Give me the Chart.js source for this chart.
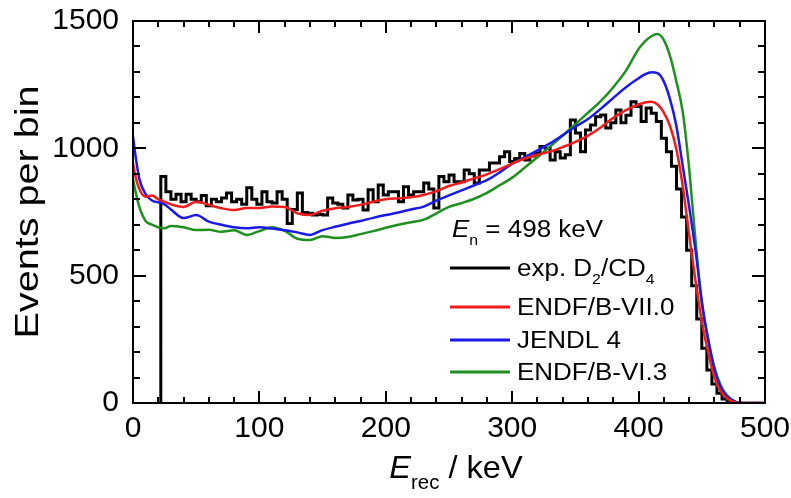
<!DOCTYPE html>
<html>
<head>
<meta charset="utf-8">
<script src="https://cdn.jsdelivr.net/npm/chart.js@4.4.1/dist/chart.umd.min.js"></script>
<style>
  html, body { margin: 0; padding: 0; background: #fff; }
  canvas { display: block; }
</style>
</head>
<body>
<canvas id="chart" width="791" height="498"></canvas>
<script>
// Recoil energy grid (keV) shared by the three evaluated-data curves
const modelE = [0, 2, 5, 10, 15, 20, 25, 30, 40, 50, 60, 70, 80, 90, 100, 110, 120, 130, 140, 150,
  160, 170, 180, 190, 200, 210, 220, 230, 240, 250, 260, 270, 280, 290, 300, 310, 320, 330, 340, 350,
  360, 370, 380, 390, 400, 405, 410, 415, 420, 425, 430, 435, 440, 445, 450, 455, 460, 465, 470, 475,
  480, 490, 500];

const endf7 = [940, 890, 840, 810, 815, 800, 790, 780, 770, 790, 778, 765, 758, 766, 766, 772, 770, 745, 738, 755,
  765, 770, 778, 790, 800, 804, 808, 817, 832, 852, 866, 882, 898, 918, 940, 960, 975, 987, 1005, 1025,
  1050, 1082, 1120, 1150, 1172, 1180, 1183, 1172, 1140, 1085, 993, 849, 660, 480, 320, 200, 100, 45, 18, 5,
  0, 0, 0];

const jendl4 = [1046, 970, 880, 820, 795, 788, 780, 760, 726, 738, 712, 700, 690, 686, 690, 685, 678, 670, 660, 679,
  692, 704, 715, 727, 738, 748, 760, 771, 795, 815, 835, 855, 875, 905, 940, 965, 992, 1020, 1052, 1085,
  1115, 1155, 1198, 1240, 1275, 1290, 1299, 1295, 1262, 1190, 1085, 928, 771, 600, 400, 250, 130, 60, 25, 8,
  0, 0, 0];

const endf6 = [880, 830, 770, 715, 700, 690, 686, 695, 690, 679, 680, 672, 678, 660, 675, 690, 676, 645, 640, 655,
  648, 652, 663, 675, 688, 700, 710, 720, 745, 770, 785, 802, 825, 855, 885, 925, 965, 1007, 1050, 1095,
  1140, 1185, 1240, 1305, 1390, 1420, 1440, 1449, 1425, 1360, 1260, 1140, 920, 640, 390, 250, 140, 70, 30, 10,
  0, 0, 0];

// Measured histogram: 4 keV bins starting at 22 keV
const expBinStart = 22;
const expBinWidth = 4;
const expCounts = [123, 889, 830, 800, 820, 790, 820, 800, 790, 815, 775, 800, 790, 805, 825, 790, 800, 780, 845, 800,
  780, 830, 790, 785, 830, 800, 705, 760, 825, 748, 745, 738, 740, 738, 805, 785, 780, 766, 817, 797,
  800, 758, 837, 790, 856, 817, 830, 830, 790, 849, 817, 830, 830, 864, 840, 766, 889, 869, 895, 869,
  869, 915, 900, 864, 915, 915, 942, 942, 967, 987, 948, 960, 980, 954, 970, 980, 1007, 1000, 954, 987,
  962, 975, 1111, 1060, 987, 1072, 1092, 1124, 1131, 1080, 1100, 1151, 1100, 1130, 1183, 1164, 1105, 1158, 1138, 1105,
  1040, 987, 930, 840, 730, 600, 460, 330, 215, 130, 75, 38, 16, 6, 0];

const xMajor = [0, 100, 200, 300, 400, 500];
const yMajor = [0, 500, 1000, 1500];

const legendItems = [
  { color: '#000000', parts: [['exp. D', 0], ['2', 1], ['/CD', 0], ['4', 1]] },
  { color: '#ee1c1c', parts: [['ENDF/B-VII.0', 0]] },
  { color: '#1a1ae6', parts: [['JENDL 4', 0]] },
  { color: '#1f8f1f', parts: [['ENDF/B-VI.3', 0]] }
];

const FONT = "'Liberation Sans', Arial, sans-serif";

function toPoints(xs, ys) {
  return xs.map((x, i) => ({ x: x, y: ys[i] }));
}

function expPoints() {
  const pts = [{ x: expBinStart, y: 0 }];
  expCounts.forEach((c, i) => pts.push({ x: expBinStart + i * expBinWidth, y: c }));
  pts.push({ x: expBinStart + expCounts.length * expBinWidth, y: 0 });
  return pts;
}

// inward ticks on all four sides + frame
const framePlugin = {
  id: 'frame',
  afterDatasetsDraw(chart) {
    const { ctx, chartArea: a, scales } = chart;
    const xs = scales.x, ys = scales.y;
    ctx.save();
    ctx.strokeStyle = '#000';
    ctx.lineWidth = 2;
    ctx.strokeRect(a.left, a.top, a.right - a.left, a.bottom - a.top);
    ctx.beginPath();
    for (let v = 0; v <= 500; v += 20) {
      const px = Math.round(xs.getPixelForValue(v));
      const len = v % 100 === 0 ? 12 : 6;
      ctx.moveTo(px, a.bottom); ctx.lineTo(px, a.bottom - len);
      ctx.moveTo(px, a.top); ctx.lineTo(px, a.top + len);
    }
    for (let v = 0; v <= 1500; v += 100) {
      const py = Math.round(ys.getPixelForValue(v));
      const len = v % 500 === 0 ? 13 : 7;
      ctx.moveTo(a.left, py); ctx.lineTo(a.left + len, py);
      ctx.moveTo(a.right, py); ctx.lineTo(a.right - len, py);
    }
    ctx.stroke();
    ctx.restore();
  }
};

// draws a run of [text, isSub] parts at (x, y) with a horizontal stretch
function drawParts(ctx, parts, x, y, size, italicFirst, stretch) {
  ctx.save();
  ctx.translate(x, y);
  ctx.scale(stretch, 1);
  let cx = 0;
  parts.forEach((p, i) => {
    const sub = p[1] === 1;
    const sz = sub ? Math.round(size * 0.62) : size;
    ctx.font = ((italicFirst && i === 0) ? 'italic ' : '') + sz + 'px ' + FONT;
    ctx.fillText(p[0], cx, sub ? size * 0.33 : 0);
    cx += ctx.measureText(p[0]).width;
  });
  ctx.restore();
  return cx * stretch;
}

function partsWidth(ctx, parts, size, italicFirst, stretch) {
  let w = 0;
  parts.forEach((p, i) => {
    const sz = p[1] === 1 ? Math.round(size * 0.62) : size;
    ctx.font = ((italicFirst && i === 0) ? 'italic ' : '') + sz + 'px ' + FONT;
    w += ctx.measureText(p[0]).width;
  });
  return w * stretch;
}

const textPlugin = {
  id: 'texts',
  afterDraw(chart) {
    const ctx = chart.ctx;
    ctx.save();
    ctx.fillStyle = '#000';
    ctx.textBaseline = 'alphabetic';
    ctx.textAlign = 'left';

    // y axis title
    ctx.save();
    ctx.translate(38, 212);
    ctx.rotate(-Math.PI / 2);
    ctx.scale(1.2, 1);
    ctx.font = '33px ' + FONT;
    ctx.textAlign = 'center';
    ctx.fillText('Events per bin', 0, 0);
    ctx.restore();

    // x axis title
    const xt = [['E', 0], ['rec', 1], [' / keV', 0]];
    const w = partsWidth(ctx, xt, 32, true, 1.02);
    drawParts(ctx, xt, 456 - w / 2, 478, 32, true, 1.02);

    // legend
    drawParts(ctx, [['E', 0], ['n', 1], [' = 498 keV', 0]], 452, 237, 23, true, 1.13);
    const rows = [268, 307, 340, 372];
    legendItems.forEach((item, i) => {
      const y = rows[i];
      ctx.strokeStyle = item.color;
      ctx.lineWidth = 3;
      ctx.beginPath();
      ctx.moveTo(450, y); ctx.lineTo(510, y);
      ctx.stroke();
      drawParts(ctx, item.parts, 517, y + 8, 23, false, 1.13);
    });
    ctx.restore();
  }
};

const lineStyle = { pointRadius: 0, borderWidth: 2.5, fill: false, tension: 0.35, cubicInterpolationMode: 'monotone' };

function noPad(s) {
  s.paddingLeft = 0; s.paddingRight = 0; s.paddingTop = 0; s.paddingBottom = 0;
}

new Chart(document.getElementById('chart'), {
  type: 'line',
  data: {
    datasets: [
      Object.assign({ label: 'ENDF/B-VII.0', data: toPoints(modelE, endf7), borderColor: '#ee1c1c' }, lineStyle),
      Object.assign({ label: 'JENDL 4', data: toPoints(modelE, jendl4), borderColor: '#1a1ae6' }, lineStyle),
      Object.assign({ label: 'ENDF/B-VI.3', data: toPoints(modelE, endf6), borderColor: '#1f8f1f' }, lineStyle),
      { label: 'exp. D2/CD4', data: expPoints(), borderColor: '#000', borderWidth: 3, pointRadius: 0, stepped: 'after', fill: false }
    ]
  },
  options: {
    responsive: false,
    animation: false,
    devicePixelRatio: 1,
    layout: { padding: { left: 0, top: 21, right: 26, bottom: 0 } },
    plugins: { legend: { display: false }, tooltip: { enabled: false } },
    scales: {
      x: {
        type: 'linear', min: 0, max: 500,
        afterFit: (s) => { s.height = 95; noPad(s); },
        afterBuildTicks: (s) => { s.ticks = xMajor.map(v => ({ value: v })); },
        grid: { display: false, drawTicks: false },
        border: { display: false },
        ticks: { color: '#000', padding: 8, font: { size: 30, family: FONT }, callback: (v) => String(v) }
      },
      y: {
        type: 'linear', min: 0, max: 1500,
        afterFit: (s) => { s.width = 133; noPad(s); },
        afterBuildTicks: (s) => { s.ticks = yMajor.map(v => ({ value: v })); },
        grid: { display: false, drawTicks: false },
        border: { display: false },
        ticks: { color: '#000', padding: 14, font: { size: 30, family: FONT }, callback: (v) => String(v) }
      }
    }
  },
  plugins: [framePlugin, textPlugin]
});
</script>
</body>
</html>
